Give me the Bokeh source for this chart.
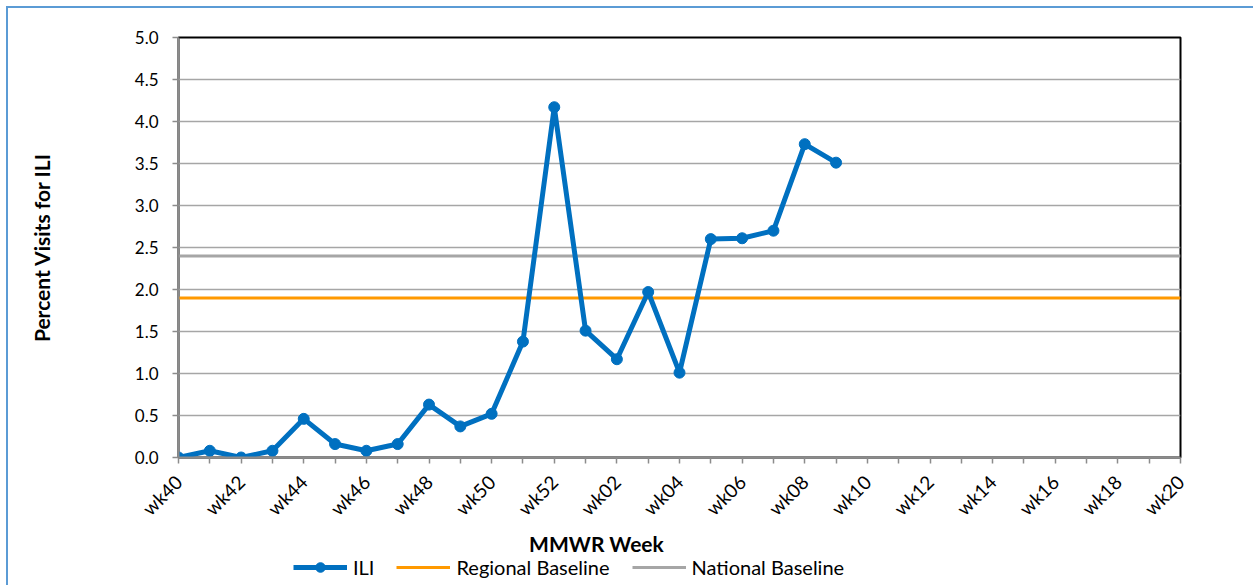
from bokeh.plotting import figure
from bokeh.layouts import column
from bokeh.models import Range1d, FixedTicker, Legend, LegendItem, Label, NumeralTickFormatter
from bokeh.embed import file_html
from bokeh.resources import INLINE
import math

weeks = ["wk40", "wk41", "wk42", "wk43", "wk44", "wk45", "wk46", "wk47", "wk48", "wk49",
         "wk50", "wk51", "wk52", "wk01", "wk02", "wk03", "wk04", "wk05", "wk06", "wk07",
         "wk08", "wk09", "wk10", "wk11", "wk12", "wk13", "wk14", "wk15", "wk16", "wk17",
         "wk18", "wk19", "wk20"]
ili = [0.00, 0.08, 0.00, 0.08, 0.46, 0.16, 0.08, 0.16, 0.63, 0.37,
       0.52, 1.38, 4.17, 1.51, 1.17, 1.97, 1.01, 2.60, 2.61, 2.70,
       3.73, 3.51]
regional_baseline = 1.9
national_baseline = 2.4
y_ticks = [0.0, 0.5, 1.0, 1.5, 2.0, 2.5, 3.0, 3.5, 4.0, 4.5, 5.0]

FONT = "Lato"
BLUE = "#0070C0"
ORANGE = "#FF9900"
GRAY = "#A6A6A6"

xi = list(range(len(weeks)))
xr = Range1d(0, len(weeks) - 1)

p = figure(width=1245, height=522, output_backend="svg", toolbar_location=None,
           x_range=xr, y_range=Range1d(0, 5),
           min_border_left=170, min_border_right=73, min_border_top=29, min_border_bottom=73)

p.outline_line_color = "black"
p.outline_line_width = 2

p.xgrid.visible = False
p.ygrid.grid_line_color = GRAY
p.ygrid.grid_line_width = 1.5

p.xaxis.ticker = FixedTicker(ticks=xi)
p.xaxis.major_label_overrides = {i: (w if i % 2 == 0 else "") for i, w in zip(xi, weeks)}
p.xaxis.major_label_orientation = math.pi / 4
p.xaxis.minor_tick_line_color = None
p.yaxis.ticker = FixedTicker(ticks=y_ticks)
p.yaxis.formatter = NumeralTickFormatter(format="0.0")
p.yaxis.minor_tick_line_color = None
for ax in (p.xaxis, p.yaxis):
    ax.axis_line_color = "#8C8C8C"
    ax.axis_line_width = 2
    ax.major_tick_line_color = "#8C8C8C"
    ax.major_tick_line_width = 1.5
    ax.major_tick_out = 6
    ax.major_tick_in = 0
    ax.major_label_text_font = FONT
    ax.major_label_text_color = "black"
p.yaxis.major_label_text_font_size = "17px"
p.xaxis.major_label_text_font_size = "19px"
p.yaxis.major_label_standoff = 14
p.xaxis.major_label_standoff = 15

p.yaxis.axis_label = "Percent Visits for ILI"
p.yaxis.axis_label_text_font = FONT
p.yaxis.axis_label_text_font_style = "bold"
p.yaxis.axis_label_text_font_size = "21px"
p.yaxis.axis_label_text_color = "black"
p.yaxis.axis_label_standoff = 78

p.line([xi[0], xi[-1]], [regional_baseline] * 2, line_color=ORANGE, line_width=3)
p.line([xi[0], xi[-1]], [national_baseline] * 2, line_color=GRAY, line_width=3)
p.line(xi[:len(ili)], ili, line_color=BLUE, line_width=5)
p.scatter(xi[:len(ili)], ili, size=11, fill_color=BLUE, line_color=BLUE)

# lower strip: axis title and legend
p2 = figure(width=1245, height=55, output_backend="svg", toolbar_location=None,
            x_range=xr, y_range=Range1d(-2, -1), x_axis_location=None, y_axis_location=None,
            min_border_left=170, min_border_right=73, min_border_top=0, min_border_bottom=0)
p2.outline_line_color = None
p2.grid.visible = False

l_reg = p2.line([xi[0], xi[-1]], [regional_baseline] * 2, line_color=ORANGE, line_width=3)
l_nat = p2.line([xi[0], xi[-1]], [national_baseline] * 2, line_color=GRAY, line_width=3)
l_ili = p2.line(xi[:len(ili)], ili, line_color=BLUE, line_width=5)
l_ili_m = p2.scatter(xi[:len(ili)], ili, size=11, fill_color=BLUE, line_color=BLUE)

p2.add_layout(Label(x=13.35, y=-1, text="MMWR Week", text_font=FONT, text_font_style="bold",
                    text_font_size="21px", text_align="center", text_baseline="top",
                    text_color="black"))

legend = Legend(items=[LegendItem(label="ILI", renderers=[l_ili, l_ili_m]),
                       LegendItem(label="Regional Baseline", renderers=[l_reg]),
                       LegendItem(label="National Baseline", renderers=[l_nat])],
                orientation="horizontal", location=(115, 6),
                glyph_width=54, glyph_height=24, label_standoff=6, spacing=22,
                padding=0, margin=0, border_line_color=None, background_fill_alpha=0,
                label_text_font=FONT, label_text_font_size="20px", label_text_color="black")
p2.add_layout(legend, "center")

lay = column(p, p2, spacing=0,
             styles={"border-left": "2px solid #5B9BD5", "border-top": "2px solid #5B9BD5",
                     "margin-left": "6px", "margin-top": "6px"})

open("out.html", "w").write(file_html(lay, INLINE))
